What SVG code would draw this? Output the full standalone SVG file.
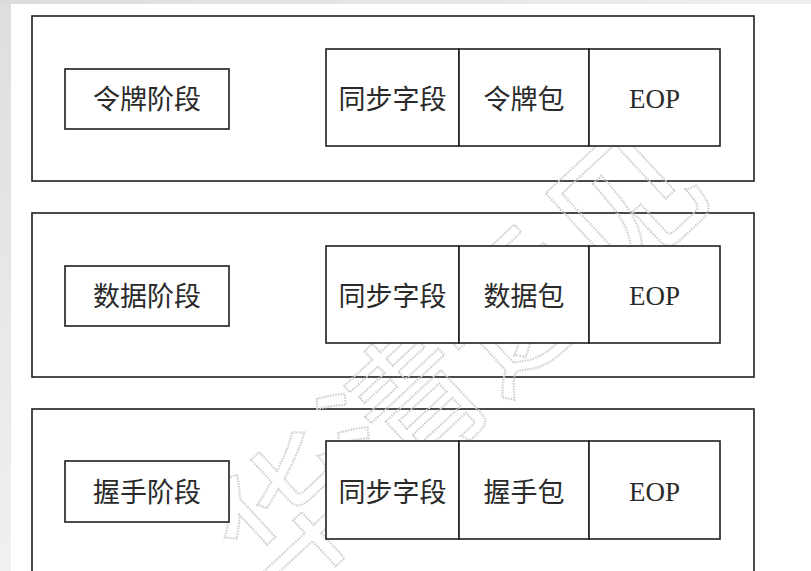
<svg xmlns="http://www.w3.org/2000/svg" width="811" height="571" viewBox="0 0 811 571">
  <defs>
    <linearGradient id="bgTop" x1="0" y1="0" x2="1" y2="0">
      <stop offset="0" stop-color="#dcdcdc"/>
      <stop offset="1" stop-color="#efefef"/>
    </linearGradient>
    <linearGradient id="bgLeft" x1="0" y1="0" x2="0" y2="1">
      <stop offset="0" stop-color="#dedede"/>
      <stop offset="1" stop-color="#f0f0f0"/>
    </linearGradient>
  </defs>
  <style>
    .outer { fill: none; stroke: #1e1e1e; stroke-width: 1.6; }
    .box { fill: #ffffff; stroke: #1e1e1e; stroke-width: 1.6; }
    .cjk { font-family: "Noto Sans CJK SC", "Noto Sans CJK TC", sans-serif; font-size: 27px; fill: #2a2a2a; text-anchor: middle; }
    .lat { font-family: "Liberation Serif", "Times New Roman", serif; font-size: 27px; fill: #2a2a2a; text-anchor: middle; }
    .wm { font-family: "Noto Sans CJK SC", sans-serif; font-size: 150px; fill: none; stroke: #d0d0d0; stroke-width: 2.2; stroke-dasharray: 1.5 1.2; text-anchor: middle; dominant-baseline: central; }
  </style>

  <!-- background frame -->
  <rect x="0" y="0" width="811" height="571" fill="url(#bgLeft)"/>
  <rect x="0" y="0" width="811" height="4" fill="url(#bgTop)"/>
  <rect x="11" y="4" width="800" height="567" fill="#ffffff"/>

  <!-- phase containers -->
  <g id="token-phase-frame"><rect class="outer" x="32" y="16" width="722" height="165"/></g>
  <g id="data-phase-frame"><rect class="outer" x="32" y="213" width="722" height="164"/></g>
  <g id="handshake-phase-frame"><rect class="outer" x="32" y="409" width="722" height="175"/></g>

  <!-- watermark -->
  <text class="wm" x="452" y="352" transform="rotate(-43 452 352)">华清远见</text>

  <g id="connectors"></g>

  <!-- Row 1: token phase -->
  <g id="token-phase">
    <rect class="box" x="65" y="69" width="164" height="60"/>
    <text class="cjk" x="147" y="109">令牌阶段</text>
  </g>
  <g id="token-sync">
    <rect class="box" x="326" y="49" width="133" height="97"/>
    <text class="cjk" x="392.5" y="109">同步字段</text>
  </g>
  <g id="token-packet">
    <rect class="box" x="459" y="49" width="130" height="97"/>
    <text class="cjk" x="524" y="109">令牌包</text>
  </g>
  <g id="token-eop">
    <rect class="box" x="589" y="49" width="131" height="97"/>
    <text class="lat" x="654.5" y="108">EOP</text>
  </g>

  <!-- Row 2: data phase -->
  <g id="data-phase">
    <rect class="box" x="65" y="266" width="164" height="60"/>
    <text class="cjk" x="147" y="306">数据阶段</text>
  </g>
  <g id="data-sync">
    <rect class="box" x="326" y="246" width="133" height="97"/>
    <text class="cjk" x="392.5" y="306">同步字段</text>
  </g>
  <g id="data-packet">
    <rect class="box" x="459" y="246" width="130" height="97"/>
    <text class="cjk" x="524" y="306">数据包</text>
  </g>
  <g id="data-eop">
    <rect class="box" x="589" y="246" width="131" height="97"/>
    <text class="lat" x="654.5" y="305">EOP</text>
  </g>

  <!-- Row 3: handshake phase -->
  <g id="handshake-phase">
    <rect class="box" x="65" y="461" width="164" height="61"/>
    <text class="cjk" x="147" y="502">握手阶段</text>
  </g>
  <g id="handshake-sync">
    <rect class="box" x="326" y="441" width="133" height="98"/>
    <text class="cjk" x="392.5" y="502">同步字段</text>
  </g>
  <g id="handshake-packet">
    <rect class="box" x="459" y="441" width="130" height="98"/>
    <text class="cjk" x="524" y="502">握手包</text>
  </g>
  <g id="handshake-eop">
    <rect class="box" x="589" y="441" width="131" height="98"/>
    <text class="lat" x="654.5" y="501">EOP</text>
  </g>
</svg>
